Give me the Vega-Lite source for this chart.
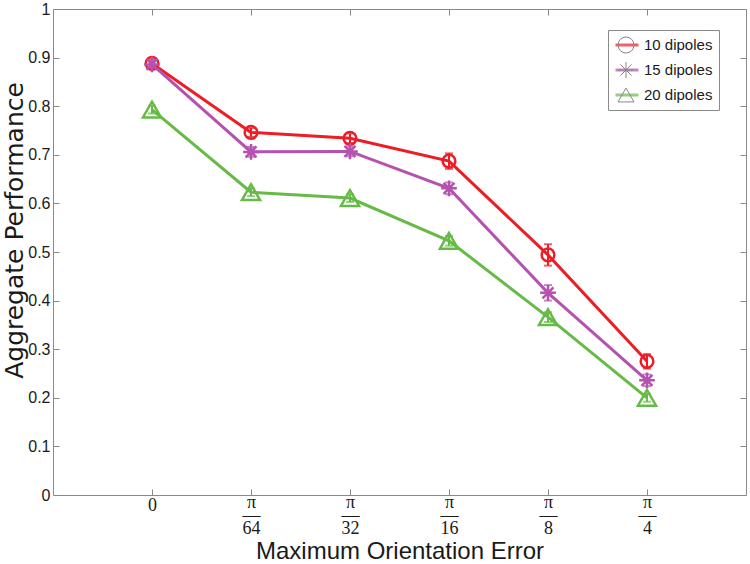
{
  "$schema": "https://vega.github.io/schema/vega-lite/v6.json",
  "width": 693,
  "height": 486,
  "autosize": {"type": "none"},
  "padding": {"left": 53, "top": 9, "right": 4, "bottom": 69},
  "background": "white",
  "config": {
    "view": {"stroke": "#8a8a8a", "strokeWidth": 1},
    "axis": {"domainColor": "#8a8a8a", "tickColor": "#8a8a8a", "grid": false, "labelColor": "#1a1a1a", "titleColor": "#1a1a1a", "titleFontWeight": "normal"}
  },
  "data": {
    "values": [
      {"x": 1, "series": "10 dipoles", "y": 0.888, "err": 0.008},
      {"x": 2, "series": "10 dipoles", "y": 0.746, "err": 0.009},
      {"x": 3, "series": "10 dipoles", "y": 0.734, "err": 0.01},
      {"x": 4, "series": "10 dipoles", "y": 0.687, "err": 0.016},
      {"x": 5, "series": "10 dipoles", "y": 0.494, "err": 0.022},
      {"x": 6, "series": "10 dipoles", "y": 0.275, "err": 0.015},
      {"x": 1, "series": "15 dipoles", "y": 0.886, "err": 0.007},
      {"x": 2, "series": "15 dipoles", "y": 0.706, "err": 0.01},
      {"x": 3, "series": "15 dipoles", "y": 0.707, "err": 0.01},
      {"x": 4, "series": "15 dipoles", "y": 0.631, "err": 0.012},
      {"x": 5, "series": "15 dipoles", "y": 0.416, "err": 0.016},
      {"x": 6, "series": "15 dipoles", "y": 0.236, "err": 0.012},
      {"x": 1, "series": "20 dipoles", "y": 0.793, "err": 0.008},
      {"x": 2, "series": "20 dipoles", "y": 0.623, "err": 0.008},
      {"x": 3, "series": "20 dipoles", "y": 0.611, "err": 0.008},
      {"x": 4, "series": "20 dipoles", "y": 0.523, "err": 0.01},
      {"x": 5, "series": "20 dipoles", "y": 0.366, "err": 0.01},
      {"x": 6, "series": "20 dipoles", "y": 0.2, "err": 0.008}
    ]
  },
  "layer": [
    {
      "mark": {"type": "errorbar", "ticks": {"size": 8, "thickness": 2}, "thickness": 2},
      "encoding": {
        "x": {"field": "x", "type": "quantitative", "scale": {"domain": [0, 7], "nice": false, "zero": false},
          "axis": {"values": [1, 2, 3, 4, 5, 6], "tickSize": -6, "domain": false,
            "labelExpr": "datum.value == 1 ? '0' : ['π', '—', datum.value == 2 ? '64' : datum.value == 3 ? '32' : datum.value == 4 ? '16' : datum.value == 5 ? '8' : '4']",
            "labelFont": "Liberation Serif", "labelFontSize": 18, "labelLineHeight": 13.4,
            "labelPadding": {"condition": {"test": "datum.value == 1", "value": 7}, "value": 4},
            "title": "Maximum Orientation Error", "titleFont": "Liberation Sans", "titleFontSize": 24, "titlePadding": 2}},
        "y": {"field": "y", "type": "quantitative", "scale": {"domain": [0, 1], "nice": false},
          "axis": {"values": [0, 0.1, 0.2, 0.3, 0.4, 0.5, 0.6, 0.7, 0.8, 0.9, 1], "format": "~g", "tickSize": -6, "domain": false,
            "labelFont": "Liberation Sans", "labelFontSize": 16, "labelPadding": 9,
            "title": "Aggregate Performance", "titleFont": "DejaVu Sans", "titleFontSize": 25, "titleX": -39, "titleY": 221, "titleBaseline": "middle"}},
        "yError": {"field": "err"},
        "color": {"field": "series", "type": "nominal", "scale": {"range": ["#ee1c25", "#b552b0", "#66bb46"]},
          "legend": {"orient": "none", "legendX": 555, "legendY": 21, "title": null, "symbolType": "stroke", "symbolSize": 529, "symbolStrokeWidth": 3,
            "labelFont": "Liberation Sans", "labelFontSize": 15, "labelColor": "#1a1a1a", "labelOffset": 4, "strokeColor": "#8a8a8a",
            "padding": 6, "rowPadding": 7, "clipHeight": 18}}
      }
    },
    {
      "mark": {"type": "line", "strokeWidth": 3},
      "encoding": {
        "x": {"field": "x", "type": "quantitative", "axis": null},
        "y": {"field": "y", "type": "quantitative", "axis": null},
        "color": {"field": "series", "type": "nominal"}
      }
    },
    {
      "mark": {"type": "point", "filled": false, "strokeWidth": 2.5, "opacity": 1},
      "encoding": {
        "x": {"field": "x", "type": "quantitative", "axis": null},
        "y": {"field": "y", "type": "quantitative", "axis": null},
        "color": {"field": "series", "type": "nominal"},
        "size": {"field": "series", "type": "ordinal", "scale": {"domain": ["20 dipoles", "15 dipoles", "10 dipoles"], "range": [330, 160, 280]}, "legend": null},
        "shape": {"field": "series", "type": "nominal",
          "scale": {"domain": ["10 dipoles", "15 dipoles", "20 dipoles"], "range": ["circle", "M0,-1L0,1M-1,0L1,0M-0.7,-0.7L0.7,0.7M-0.7,0.7L0.7,-0.7", "triangle-up"]},
          "legend": {"orient": "none", "legendX": 558.5, "legendY": 21, "title": null, "symbolSize": 256, "symbolStrokeWidth": 1,
            "labelFont": "Liberation Sans", "labelFontSize": 15, "labelExpr": "''", "labelOffset": 4, "padding": 6, "rowPadding": 7, "clipHeight": 18,
            "encode": {"symbols": {"update": {"stroke": {"scale": "color", "field": "value"}, "fill": {"value": "transparent"}}}}}}
      }
    },
    {
      "mark": {"type": "point", "opacity": 0},
      "encoding": {
        "x": {"field": "x", "type": "quantitative", "axis": {"orient": "top", "values": [1, 2, 3, 4, 5, 6], "labels": false, "domain": false, "tickSize": -6, "title": null}},
        "y": {"field": "y", "type": "quantitative", "axis": {"orient": "right", "values": [0, 0.1, 0.2, 0.3, 0.4, 0.5, 0.6, 0.7, 0.8, 0.9, 1], "labels": false, "domain": false, "tickSize": -6, "title": null}}
      }
    }
  ],
  "resolve": {"axis": {"x": "independent", "y": "independent"}}
}
